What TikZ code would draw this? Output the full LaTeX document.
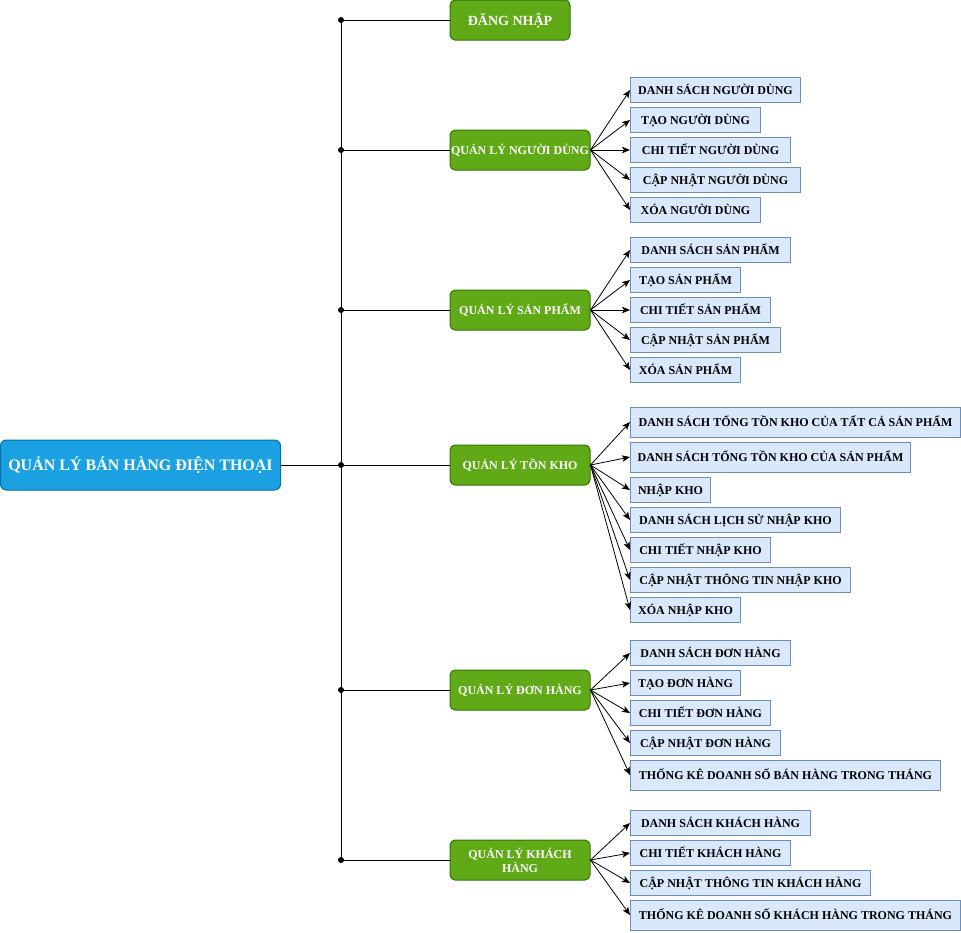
\documentclass[tikz,border=0pt]{standalone}
\usepackage{fontspec}
\setmainfont{Liberation Serif}
\usetikzlibrary{arrows.meta}
\definecolor{rootfill}{HTML}{1BA1E2}
\definecolor{rootstroke}{HTML}{006EAF}
\definecolor{grnfill}{HTML}{60A917}
\definecolor{grnstroke}{HTML}{2D7600}
\definecolor{leaffill}{HTML}{DAE8FC}
\definecolor{leafstroke}{HTML}{6C8EBF}
\tikzset{
  fixt/.style={text height=9pt, text depth=0pt},
  rootbox/.style={draw=rootstroke, fill=rootfill, rounded corners=6pt, line width=1pt, text=white,
    font=\bfseries\fontsize{16}{18}\selectfont, inner sep=0pt, minimum width=280pt, minimum height=50pt,
    text height=11.5pt, text depth=0pt},
  grn/.style={draw=grnstroke, fill=grnfill, rounded corners=5pt, line width=1pt, text=white,
    font=\bfseries\fontsize{12}{14}\selectfont, inner sep=0pt, minimum width=140pt, minimum height=40pt, align=center},
  leaf/.style={draw=leafstroke, fill=leaffill, line width=1pt, text=black, anchor=west, fixt,
    font=\bfseries\fontsize{12}{14}\selectfont, inner sep=0pt, minimum height=25pt},
  tall/.style={minimum height=30pt},
  arr/.style={-{Stealth[length=8pt,width=6.5pt,inset=2pt]}, line width=0.8pt},
  trunk/.style={line width=1pt},
  dot/.style={fill=black}
}
\begin{document}
\begin{tikzpicture}[x=1pt,y=-1pt]
\useasboundingbox (0,0) rectangle (961,932);
% root
\node[rootbox] (root) at (140.5,465) {QUẢN LÝ BÁN HÀNG ĐIỆN THOẠI};
% green
\node[grn, minimum width=120pt, text height=10.5pt, text depth=0pt] (g1) at (510,20) {\fontsize{14}{16}\selectfont ĐĂNG NHẬP};
\node[grn, fixt] (g2) at (520,150) {QUẢN LÝ NGƯỜI DÙNG};
\node[grn, fixt] (g3) at (520,310) {QUẢN LÝ SẢN PHẨM};
\node[grn, fixt] (g4) at (520,465) {QUẢN LÝ TỒN KHO};
\node[grn, fixt] (g5) at (520,690) {QUẢN LÝ ĐƠN HÀNG};
\node[grn] (g6) at (520,860) {QUẢN LÝ KHÁCH\\HÀNG};
% junctions
\coordinate (j1) at (341,20);
\coordinate (j2) at (341,150);
\coordinate (j3) at (341,310);
\coordinate (j4) at (341,465);
\coordinate (j5) at (341,690);
\coordinate (j6) at (341,860);
\draw[trunk] (j1) -- (j6);
\draw[trunk] (root.east) -- (g4.west);
\foreach \i in {1,2,3,5,6} { \draw[trunk] (j\i) -- (g\i.west); }
\foreach \i in {1,...,6} { \fill[dot] (j\i) circle (3pt); }
% users
\node[leaf, minimum width=170pt] (u1) at (630,90) {DANH SÁCH NGƯỜI DÙNG};
\node[leaf, minimum width=130pt] (u2) at (630,120) {TẠO NGƯỜI DÙNG};
\node[leaf, minimum width=160pt] (u3) at (630,150) {CHI TIẾT NGƯỜI DÙNG};
\node[leaf, minimum width=170pt] (u4) at (630,180) {CẬP NHẬT NGƯỜI DÙNG};
\node[leaf, minimum width=130pt] (u5) at (630,210) {XÓA NGƯỜI DÙNG};
\foreach \i in {1,...,5} { \draw[arr] (g2.east) -- (u\i.west); }
% products
\node[leaf, minimum width=160pt] (p1) at (630,250) {DANH SÁCH SẢN PHẨM};
\node[leaf, minimum width=110pt] (p2) at (630,280) {TẠO SẢN PHẨM};
\node[leaf, minimum width=140pt] (p3) at (630,310) {CHI TIẾT SẢN PHẨM};
\node[leaf, minimum width=150pt] (p4) at (630,340) {CẬP NHẬT SẢN PHẨM};
\node[leaf, minimum width=110pt] (p5) at (630,370) {XÓA SẢN PHẨM};
\foreach \i in {1,...,5} { \draw[arr] (g3.east) -- (p\i.west); }
% stock
\node[leaf, tall, minimum width=330pt] (k1) at (630,422) {DANH SÁCH TỔNG TỒN KHO CỦA TẤT CẢ SẢN PHẨM};
\node[leaf, tall, minimum width=280pt] (k2) at (630,457) {DANH SÁCH TỔNG TỒN KHO CỦA SẢN PHẨM};
\node[leaf, minimum width=80pt] (k3) at (630,490) {NHẬP KHO};
\node[leaf, minimum width=210pt] (k4) at (630,520) {DANH SÁCH LỊCH SỬ NHẬP KHO};
\node[leaf, minimum width=140pt] (k5) at (630,550) {CHI TIẾT NHẬP KHO};
\node[leaf, minimum width=220pt] (k6) at (630,580) {CẬP NHẬT THÔNG TIN NHẬP KHO};
\node[leaf, minimum width=110pt] (k7) at (630,610) {XÓA NHẬP KHO};
\foreach \i in {1,...,7} { \draw[arr] (g4.east) -- (k\i.west); }
% orders
\node[leaf, minimum width=160pt] (o1) at (630,653) {DANH SÁCH ĐƠN HÀNG};
\node[leaf, minimum width=110pt] (o2) at (630,683) {TẠO ĐƠN HÀNG};
\node[leaf, minimum width=140pt] (o3) at (630,713) {CHI TIẾT ĐƠN HÀNG};
\node[leaf, minimum width=150pt] (o4) at (630,743) {CẬP NHẬT ĐƠN HÀNG};
\node[leaf, tall, minimum width=310pt] (o5) at (630,775) {THỐNG KÊ DOANH SỐ BÁN HÀNG TRONG THÁNG};
\foreach \i in {1,...,5} { \draw[arr] (g5.east) -- (o\i.west); }
% customers
\node[leaf, minimum width=180pt] (c1) at (630,823) {DANH SÁCH KHÁCH HÀNG};
\node[leaf, minimum width=160pt] (c2) at (630,853) {CHI TIẾT KHÁCH HÀNG};
\node[leaf, minimum width=240pt] (c3) at (630,883) {CẬP NHẬT THÔNG TIN KHÁCH HÀNG};
\node[leaf, tall, minimum width=330pt] (c4) at (630,915) {THỐNG KÊ DOANH SỐ KHÁCH HÀNG TRONG THÁNG};
\foreach \i in {1,...,4} { \draw[arr] (g6.east) -- (c\i.west); }
\end{tikzpicture}
\end{document}
